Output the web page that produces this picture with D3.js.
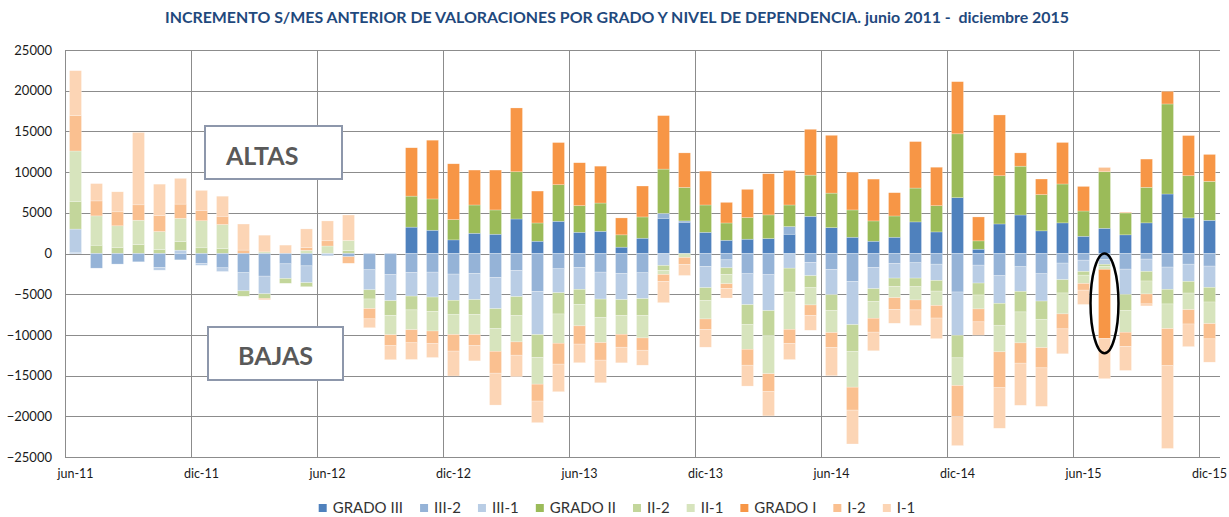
<!DOCTYPE html>
<html>
<head>
<meta charset="utf-8">
<script src="https://cdn.jsdelivr.net/npm/d3@7"></script>
<style>
  body { margin: 0; background: #fff; }
  svg { display: block; font-family: Lato, "Open Sans", sans-serif; }
</style>
</head>
<body>
<svg id="chart" width="1229" height="517"></svg>
<script>
// months (Spanish short names, as on the axis)
const categories = ['jun-11','jul-11','ago-11','sep-11','oct-11','nov-11','dic-11',
  'ene-12','feb-12','mar-12','abr-12','may-12','jun-12','jul-12','ago-12','sep-12','oct-12','nov-12','dic-12',
  'ene-13','feb-13','mar-13','abr-13','may-13','jun-13','jul-13','ago-13','sep-13','oct-13','nov-13','dic-13',
  'ene-14','feb-14','mar-14','abr-14','may-14','jun-14','jul-14','ago-14','sep-14','oct-14','nov-14','dic-14',
  'ene-15','feb-15','mar-15','abr-15','may-15','jun-15','jul-15','ago-15','sep-15','oct-15','nov-15','dic-15'];

const xTickLabels = ['jun-11','dic-11','jun-12','dic-12','jun-13','dic-13','jun-14','dic-14','jun-15','dic-15'];
const yTicks = [-25000,-20000,-15000,-10000,-5000,0,5000,10000,15000,20000,25000];

const seriesNames = ['GRADO III','III-2','III-1','GRADO II','II-2','II-1','GRADO I','I-2','I-1'];
const seriesColors = ['#4F81BD','#95B3D7','#B9CDE5','#9BBB59','#C3D69B','#D7E4BD','#F79646','#FAC090','#FCD5B5'];

// ALTAS (positive increments)
const altasGradoIII = [0,0,0,0,0,0,0,0,0,0, 0,0,0,0,0,0,3240,2860,1670,2490,
  2370,4240,1510,3960,2610,2730,780,1880,4330,3840, 2610,1630,1760,1840,2370,4570,3180,2000,1510,2000,
  3880,2650,6860,530,3630,4730,2780,3760,2120,3100, 2290,3760,7310,4370,4080];
const altasIII2 = [100,0,0,0,0,0,0,0,0,0, 0,0,0,0,0,0,0,0,0,0,
  0,0,0,0,0,0,0,0,610,160, 0,0,0,0,940,0,0,0,0,0,
  0,0,0,0,0,0,0,0,0,0, 0,0,0,0,0];
const altasIII1 = [2900,0,0,0,0,410,0,0,0,0, 0,0,0,0,0,0,0,0,0,0,
  0,0,0,0,0,0,0,0,0,0, 0,0,0,0,0,0,0,0,0,0,
  0,0,0,0,0,0,0,0,0,0, 0,0,0,0,0];
const altasGradoII = [0,0,0,0,0,0,0,0,0,0, 0,0,0,0,0,0,3810,3840,2490,3470,
  2980,5800,2240,4490,3270,3470,1510,2610,5430,4120, 3350,2120,2650,2900,2650,5060,4240,3350,2490,2610,
  4160,3220,7840,1020,5920,6000,4450,4780,3100,6940, 2690,4370,11060,5180,4780];
const altasII2 = [3360,1020,740,1100,490,1070,700,610,0,0, 0,0,0,370,0,0,0,0,0,0,
  0,0,0,0,0,0,0,0,0,0, 0,0,0,0,0,0,0,0,0,0,
  0,0,0,0,0,0,0,0,0,0, 0,0,0,0,0];
const altasII1 = [6230,3600,2660,2990,2210,2830,3320,2950,0,200, 0,390,920,1230,0,0,0,0,0,0,
  0,0,0,0,0,0,0,0,0,0, 0,0,0,0,0,0,0,0,0,0,
  0,0,0,0,0,0,0,0,0,0, 0,0,0,0,0];
const altasGradoI = [0,0,0,0,0,0,0,0,0,0, 0,0,0,0,0,0,5940,7220,6860,4290,
  4900,7840,3920,5180,5270,4530,2080,3800,6570,4240, 4160,2530,3470,5060,4240,5630,7100,4650,5140,2860,
  5710,4730,6410,2940,7470,1630,1920,5100,3020,0, 80,3470,1550,4940,3310];
const altasI2 = [4340,1840,1720,1890,1970,1760,1230,1020,420,0, 0,330,640,0,0,0,0,0,0,0,
  0,0,0,0,0,0,0,0,0,0, 0,0,0,0,0,0,0,0,0,0,
  0,0,0,0,0,0,0,0,0,530, 0,0,0,0,0];
const altasI1 = [5530,2130,2460,8890,3850,3160,2500,2460,3200,2050, 1030,2300,2440,3130,0,0,0,0,0,0,
  0,0,0,0,0,0,0,0,0,0, 0,0,0,0,0,0,0,0,0,0,
  0,0,0,0,0,0,0,0,0,0, 0,0,0,0,0];

// BAJAS (negative increments)
const bajasIII2 = [0,-1800,-1300,-1020,-1720,-780,-1230,-1760,-2360,-2780,
  -1270,-1520,0,-400,-2000,-2600,-2320,-2290,-2530,-2450,
  -2940,-2080,-4650,-1880,-1710,-2290,-2450,-2370,0,0,
  -1590,-780,-2490,-2610,0,-1100,-1960,-3430,-1710,-1220,
  -1140,-1310,-4730,-1430,-2730,-1630,-2490,-1180,-820,-730,
  -1920,-690,-1670,-1310,-1550];
const bajasIII1 = [0,0,0,0,-330,0,-220,-450,-2230,-2170,
  -1800,-2070,-290,0,-2460,-3200,-2910,-3060,-3220,-3220,
  -3840,-3220,-5310,-2940,-2690,-3310,-3220,-3180,-1470,0,
  -2610,-980,-3800,-4410,-1800,-1630,-3100,-5310,-2610,-1800,
  -1880,-2000,-5310,-2200,-3390,-3020,-3350,-2040,-1390,-600,
  -3100,-1510,-2730,-2120,-2610];
const bajasII2 = [0,0,0,0,0,0,0,0,-660,-570,
  -590,-490,0,0,-1130,-1800,-1700,-1760,-1710,-1800,
  -2450,-2290,-2820,-2610,-1840,-2240,-1920,-2040,-610,0,
  -1550,-820,-2450,-3100,-2940,-1470,-1920,-3270,-1550,-1020,
  -1060,-1310,-2780,-1470,-2690,-2530,-2290,-1630,-450,-290,
  -2000,-1180,-1800,-1430,-1800];
const bajasII1 = [0,0,0,0,0,0,0,0,0,0,
  0,0,0,0,-1170,-2380,-2440,-2410,-2490,-2490,
  -2780,-3270,-3270,-3590,-2650,-3100,-2330,-2780,-490,-490,
  -2290,-1140,-3020,-4650,-4570,-2120,-2730,-4410,-2080,-1390,
  -1630,-1760,-3390,-1710,-3270,-3800,-3430,-2570,-1020,-330,
  -2650,-1590,-3020,-2040,-2650];
const bajasGradoI = [0,0,0,0,0,0,0,0,0,0, 0,0,0,0,0,0,0,0,0,0,
  0,0,0,0,0,0,0,0,0,0, 0,0,0,0,0,0,0,0,0,0,
  0,0,0,0,0,0,0,0,0,-8490, 0,0,0,0,0];
const bajasI2 = [0,0,0,0,0,0,0,0,0,-140,
  0,0,0,-800,-1270,-1350,-1600,-1550,-2040,-1310,
  -2690,-1630,-2080,-2570,-2240,-2160,-1590,-1510,-860,-860,
  -1270,-570,-1960,-2200,-1760,-1310,-1840,-2820,-1710,-1430,
  -1220,-1550,-3840,-1590,-4410,-2490,-2490,-1840,-820,0,
  -1760,-1220,-4570,-1760,-1880];
const bajasI1 = [0,0,0,0,0,0,0,0,0,0,
  0,0,0,0,-1090,-1720,-2050,-1710,-3060,-1920,
  -3920,-2650,-2650,-3390,-2290,-2780,-1920,-1840,-2610,-1350,
  -2200,-1180,-2570,-2980,-1960,-1800,-3470,-4160,-2290,-1710,
  -1920,-2530,-3550,-1630,-4980,-5180,-4730,-3060,-1760,-4940,
  -2940,-250,-10160,-2780,-2860];

// month circled in the original
const highlightMonth = 'jul-15';
const highlightRange = [0, -12250];

// series index -> values (altas first, then bajas; diverging stack splits signs)
const layers = [
  { key: 'a0', s: 0, values: altasGradoIII },
  { key: 'a1', s: 1, values: altasIII2 },
  { key: 'a2', s: 2, values: altasIII1 },
  { key: 'a3', s: 3, values: altasGradoII },
  { key: 'a4', s: 4, values: altasII2 },
  { key: 'a5', s: 5, values: altasII1 },
  { key: 'a6', s: 6, values: altasGradoI },
  { key: 'a7', s: 7, values: altasI2 },
  { key: 'a8', s: 8, values: altasI1 },
  { key: 'b1', s: 1, values: bajasIII2 },
  { key: 'b2', s: 2, values: bajasIII1 },
  { key: 'b4', s: 4, values: bajasII2 },
  { key: 'b5', s: 5, values: bajasII1 },
  { key: 'b6', s: 6, values: bajasGradoI },
  { key: 'b7', s: 7, values: bajasI2 },
  { key: 'b8', s: 8, values: bajasI1 }
];

const rows = categories.map((m, i) => {
  const r = { month: m };
  layers.forEach(l => { r[l.key] = l.values[i]; });
  return r;
});

const width = 1229, height = 517;
const plot = { left: 65, right: 1220, top: 50, bottom: 457 };
const gridColor = '#8c8c8c';

const svg = d3.select('#chart');
svg.append('rect').attr('width', width).attr('height', height).attr('fill', '#fff');

const x = d3.scaleBand()
  .domain(categories)
  .range([plot.left, plot.right])
  .paddingInner(0.43)
  .paddingOuter(0.215);

const y = d3.scaleLinear()
  .domain([-25000, 25000])
  .range([plot.bottom, plot.top]);

const stacked = d3.stack()
  .keys(layers.map(l => l.key))
  .offset(d3.stackOffsetDiverging)(rows);

// horizontal gridlines
svg.append('g')
  .selectAll('line')
  .data(yTicks)
  .enter()
  .append('line')
  .attr('x1', plot.left)
  .attr('x2', plot.right)
  .attr('y1', d => Math.round(y(d)) + 0.5)
  .attr('y2', d => Math.round(y(d)) + 0.5)
  .attr('stroke', gridColor)
  .attr('stroke-width', 1);

// vertical gridlines every 6 months (category boundaries)
const boundary = m => x(m) - (x.step() - x.bandwidth()) / 2;
svg.append('g')
  .selectAll('line')
  .data(xTickLabels)
  .enter()
  .append('line')
  .attr('x1', d => Math.round(boundary(d)) + 0.5)
  .attr('x2', d => Math.round(boundary(d)) + 0.5)
  .attr('y1', plot.top)
  .attr('y2', plot.bottom)
  .attr('stroke', gridColor)
  .attr('stroke-width', 1);

// bars
const layerIndex = {};
layers.forEach(l => { layerIndex[l.key] = l.s; });

svg.append('g')
  .selectAll('g')
  .data(stacked)
  .enter()
  .append('g')
  .attr('fill', d => seriesColors[layerIndex[d.key]])
  .selectAll('rect')
  .data(d => d.filter(p => p[1] !== p[0]))
  .enter()
  .append('rect')
  .attr('x', d => x(d.data.month))
  .attr('width', x.bandwidth())
  .attr('y', d => y(Math.max(d[0], d[1])))
  .attr('height', d => Math.abs(y(d[0]) - y(d[1])))
  .attr('stroke', '#fff')
  .attr('stroke-width', 0.5)
  .attr('stroke-opacity', 0.5);

// y axis labels
const yAxis = svg.append('g')
  .attr('transform', `translate(${plot.left},0)`)
  .call(d3.axisLeft(y).tickValues(yTicks).tickSize(0).tickPadding(13).tickFormat(d3.format('d')));
yAxis.select('.domain').remove();
yAxis.selectAll('text')
  .attr('font-size', '13px')
  .attr('font-family', 'Lato, sans-serif')
  .attr('fill', '#1a1a1a');

// x axis labels
const xAxis = svg.append('g')
  .attr('transform', `translate(0,${plot.bottom})`)
  .call(d3.axisBottom(x).tickValues(xTickLabels).tickSize(0).tickPadding(12));
xAxis.select('.domain').remove();
xAxis.selectAll('text')
  .attr('font-size', '12.5px')
  .attr('font-family', 'Lato, sans-serif')
  .attr('fill', '#1a1a1a');

// title
const title = svg.append('text')
  .attr('x', 617)
  .attr('y', 23)
  .attr('text-anchor', 'middle')
  .attr('font-weight', 'bold')
  .attr('font-size', '13px')
  .attr('fill', '#1F497D')
  .text('INCREMENTO S/MES ANTERIOR DE VALORACIONES POR GRADO Y NIVEL DE DEPENDENCIA. junio 2011 -\u00a0 diciembre 2015');
const tw = title.node().getComputedTextLength();
title.attr('font-size', (13 * 905 / tw).toFixed(2) + 'px');

// ALTAS / BAJAS labels
const boxes = [
  { label: 'ALTAS', x: 205, y: 126, w: 137, h: 53, tx: 226, ty: 165 },
  { label: 'BAJAS', x: 208, y: 327, w: 135, h: 53, tx: 238, ty: 365 }
];
const boxG = svg.append('g');
boxG.selectAll('rect')
  .data(boxes)
  .enter()
  .append('rect')
  .attr('x', d => d.x)
  .attr('y', d => d.y)
  .attr('width', d => d.w)
  .attr('height', d => d.h)
  .attr('fill', '#fff')
  .attr('stroke', '#8d97ab')
  .attr('stroke-width', 2);
boxG.selectAll('text')
  .data(boxes)
  .enter()
  .append('text')
  .attr('x', d => d.tx)
  .attr('y', d => d.ty)
  .attr('font-size', '25px')
  .attr('font-weight', 'bold')
  .attr('fill', '#595959')
  .text(d => d.label);

// circled month
svg.append('ellipse')
  .attr('cx', x(highlightMonth) + x.bandwidth() / 2)
  .attr('cy', (y(highlightRange[0]) + y(highlightRange[1])) / 2)
  .attr('rx', x.bandwidth() / 2 + 8)
  .attr('ry', Math.abs(y(highlightRange[1]) - y(highlightRange[0])) / 2)
  .attr('fill', 'none')
  .attr('stroke', '#000')
  .attr('stroke-width', 2.5);

// legend
const legend = svg.append('g').attr('transform', 'translate(0,508)');
const items = legend.selectAll('g')
  .data(seriesNames)
  .enter()
  .append('g');
items.append('rect')
  .attr('x', 0)
  .attr('y', -4)
  .attr('width', 8)
  .attr('height', 8)
  .attr('fill', (d, i) => seriesColors[i]);
items.append('text')
  .attr('x', 14)
  .attr('y', 5)
  .attr('font-size', '15px')
  .attr('fill', '#333')
  .text(d => d);

let cursor = 0;
const offsets = [];
items.each(function () {
  offsets.push(cursor);
  const w = d3.select(this).select('text').node().getComputedTextLength();
  cursor += 14 + w + 17;
});
const total = cursor - 17;
const start = 617 - total / 2;
items.attr('transform', (d, i) => `translate(${start + offsets[i]},0)`);
</script>
</body>
</html>
